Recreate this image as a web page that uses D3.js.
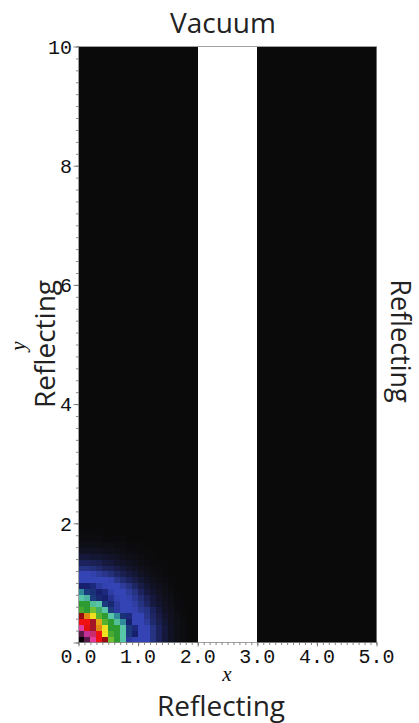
<!DOCTYPE html>
<html>
<head>
<meta charset="utf-8">
<script src="https://cdn.jsdelivr.net/npm/d3@7"></script>
<style>
  html, body { margin: 0; padding: 0; background: #fff; }
  svg { display: block; }
</style>
</head>
<body>
<svg id="chart" width="419" height="723"></svg>
<script>
// Domain of the mesh (x in [0,5], y in [0,10]) with square cells of 0.1
const xDomain = [0, 5];
const yDomain = [0, 10];
const cellSize = 0.1;
const nCellsX = 50;
const nCellsY = 100;

// Void channel: no material, drawn blank
const voidChannel = [2.0, 3.0];

// Tick values and labels
const xTickValues = [0, 1, 2, 3, 4, 5];
const xTickLabels = ["0.0", "1.0", "2.0", "3.0", "4.0", "5.0"];
const yTickValues = [2, 4, 6, 8, 10];
const yTickLabels = ["2", "4", "6", "8", "10"];

// Boundary condition labels
const labelTop = "Vacuum";
const labelLeft = "Reflecting";
const labelRight = "Reflecting";
const labelBottom = "Reflecting";
const xAxisTitle = "x";
const yAxisTitle = "y";

// Normalised scalar flux near the source corner; rows from y=0 upward,
// columns from x=0 rightward. Cells outside this block are 0.
const sourceField = [
  [1.00, 0.94, 0.88, 0.76, 0.82, 0.58, 0.53, 0.46, 0.30, 0.28, 0.27, 0.27, 0.21, 0.16, 0.11, 0.07, 0.04, 0.02, 0.00],
  [0.94, 0.91, 0.86, 0.76, 0.64, 0.55, 0.53, 0.46, 0.36, 0.33, 0.27, 0.27, 0.21, 0.16, 0.11, 0.07, 0.04, 0.02, 0.00],
  [0.88, 0.77, 0.83, 0.70, 0.64, 0.53, 0.53, 0.46, 0.36, 0.32, 0.27, 0.27, 0.21, 0.16, 0.11, 0.07, 0.04, 0.02, 0.00],
  [0.76, 0.76, 0.83, 0.68, 0.56, 0.53, 0.47, 0.40, 0.33, 0.27, 0.27, 0.24, 0.18, 0.14, 0.10, 0.06, 0.04, 0.02, 0.00],
  [0.82, 0.70, 0.64, 0.56, 0.53, 0.46, 0.40, 0.35, 0.32, 0.27, 0.27, 0.22, 0.17, 0.13, 0.09, 0.06, 0.03, 0.01, 0.00],
  [0.55, 0.53, 0.58, 0.50, 0.46, 0.36, 0.30, 0.27, 0.27, 0.26, 0.23, 0.21, 0.16, 0.11, 0.07, 0.05, 0.02, 0.01, 0.00],
  [0.53, 0.53, 0.47, 0.46, 0.36, 0.34, 0.30, 0.27, 0.27, 0.25, 0.21, 0.17, 0.12, 0.09, 0.06, 0.04, 0.02, 0.01, 0.00],
  [0.46, 0.44, 0.36, 0.34, 0.33, 0.31, 0.28, 0.27, 0.26, 0.23, 0.19, 0.15, 0.11, 0.08, 0.05, 0.03, 0.01, 0.00, 0.00],
  [0.40, 0.36, 0.35, 0.33, 0.32, 0.29, 0.27, 0.27, 0.24, 0.21, 0.16, 0.12, 0.09, 0.06, 0.04, 0.02, 0.01, 0.00, 0.00],
  [0.33, 0.33, 0.32, 0.30, 0.28, 0.27, 0.27, 0.24, 0.21, 0.17, 0.13, 0.10, 0.07, 0.05, 0.03, 0.01, 0.00, 0.00, 0.00],
  [0.27, 0.27, 0.27, 0.27, 0.27, 0.26, 0.22, 0.19, 0.16, 0.13, 0.10, 0.07, 0.05, 0.03, 0.02, 0.01, 0.00, 0.00, 0.00],
  [0.27, 0.27, 0.26, 0.24, 0.22, 0.20, 0.17, 0.14, 0.12, 0.10, 0.07, 0.05, 0.03, 0.02, 0.01, 0.00, 0.00, 0.00, 0.00],
  [0.21, 0.21, 0.20, 0.18, 0.16, 0.15, 0.13, 0.11, 0.09, 0.07, 0.05, 0.03, 0.02, 0.01, 0.01, 0.00, 0.00, 0.00, 0.00],
  [0.16, 0.16, 0.15, 0.14, 0.12, 0.11, 0.09, 0.08, 0.06, 0.05, 0.03, 0.02, 0.01, 0.01, 0.00, 0.00, 0.00, 0.00, 0.00],
  [0.11, 0.11, 0.10, 0.10, 0.09, 0.08, 0.07, 0.05, 0.04, 0.03, 0.02, 0.01, 0.01, 0.00, 0.00, 0.00, 0.00, 0.00, 0.00],
  [0.07, 0.07, 0.07, 0.06, 0.05, 0.05, 0.04, 0.03, 0.02, 0.02, 0.01, 0.01, 0.00, 0.00, 0.00, 0.00, 0.00, 0.00, 0.00],
  [0.04, 0.04, 0.04, 0.03, 0.03, 0.03, 0.02, 0.02, 0.01, 0.01, 0.01, 0.00, 0.00, 0.00, 0.00, 0.00, 0.00, 0.00, 0.00],
  [0.02, 0.02, 0.02, 0.02, 0.01, 0.01, 0.01, 0.01, 0.00, 0.00, 0.00, 0.00, 0.00, 0.00, 0.00, 0.00, 0.00, 0.00, 0.00],
  [0.01, 0.01, 0.01, 0.01, 0.00, 0.00, 0.00, 0.00, 0.00, 0.00, 0.00, 0.00, 0.00, 0.00, 0.00, 0.00, 0.00, 0.00, 0.00]
];

// Colour map stops (value -> colour)
const colorStops = [0.00, 0.04, 0.08, 0.12, 0.16, 0.21, 0.27, 0.30, 0.33, 0.36, 0.40, 0.46, 0.53, 0.58, 0.64, 0.70, 0.76, 0.82, 0.88, 0.91, 0.94, 1.00];
const colorValues = ["#0a0a0a", "#0f0f18", "#121328", "#161a40", "#1c235c", "#263282", "#3444b4", "#2c3aa0", "#16206c", "#1c3a7e", "#2f8a9a", "#58c4a8", "#2e9a32", "#70c030", "#f0e020", "#e08812", "#f01212", "#960c10", "#e43c9c", "#c03098", "#5a1a48", "#080008"];

// ---- layout ----
const svg = d3.select("#chart");
const plotLeft = 78.5, plotRight = 376.5, plotTop = 46.5, plotBottom = 642.5;

const x = d3.scaleLinear().domain(xDomain).range([plotLeft, plotRight]);
const y = d3.scaleLinear().domain(yDomain).range([plotBottom, plotTop]);
const color = d3.scaleLinear().domain(colorStops).range(colorValues).clamp(true);

// Build the full cell list
const cells = [];
for (let j = 0; j < nCellsY; j++) {
  for (let i = 0; i < nCellsX; i++) {
    const x0 = i * cellSize, y0 = j * cellSize;
    const xc = x0 + cellSize / 2;
    const isVoid = xc > voidChannel[0] && xc < voidChannel[1];
    let v = 0;
    if (j < sourceField.length && i < sourceField[j].length) v = sourceField[j][i];
    cells.push({ x0, y0, v: isVoid ? null : v });
  }
}

svg.append("g")
  .attr("shape-rendering", "crispEdges")
  .selectAll("rect")
  .data(cells.filter(d => d.v !== null))
  .join("rect")
  .attr("x", d => x(d.x0))
  .attr("y", d => y(d.y0 + cellSize))
  .attr("width", d => x(d.x0 + cellSize) - x(d.x0) + 0.5)
  .attr("height", d => y(d.y0) - y(d.y0 + cellSize) + 0.5)
  .attr("fill", d => color(d.v));

// Frame
svg.append("rect")
  .attr("x", plotLeft).attr("y", plotTop)
  .attr("width", plotRight - plotLeft).attr("height", plotBottom - plotTop)
  .attr("fill", "none").attr("stroke", "#8a8a8a").attr("stroke-width", 0.8);

const tickColor = "#666";

// x axis: minor ticks every 0.1, major at integers
const xAxisG = svg.append("g").attr("transform", `translate(0,${plotBottom})`);
xAxisG.call(d3.axisBottom(x).tickValues(d3.range(0, 51).map(k => k / 10)).tickSize(2.5).tickFormat(""));
xAxisG.append("g").call(d3.axisBottom(x).tickValues(xTickValues).tickSize(4).tickFormat(""));
xAxisG.selectAll(".domain").remove();
xAxisG.selectAll("line").attr("stroke", tickColor).attr("stroke-width", 0.8);

svg.append("g").selectAll("text")
  .data(xTickValues)
  .join("text")
  .attr("x", d => x(d))
  .attr("y", 663)
  .attr("text-anchor", "middle")
  .attr("font-family", "'Liberation Mono', 'DejaVu Sans Mono', monospace")
  .attr("font-size", 20)
  .attr("fill", "#111")
  .text((d, i) => xTickLabels[i]);

// y axis: minor ticks every 0.2, major at even integers
const yAxisG = svg.append("g").attr("transform", `translate(${plotLeft},0)`);
yAxisG.call(d3.axisLeft(y).tickValues(d3.range(0, 51).map(k => k / 5)).tickSize(2.5).tickFormat(""));
yAxisG.append("g").call(d3.axisLeft(y).tickValues([0].concat(yTickValues)).tickSize(5).tickFormat(""));
yAxisG.selectAll(".domain").remove();
yAxisG.selectAll("line").attr("stroke", tickColor).attr("stroke-width", 0.8);

svg.append("g").selectAll("text")
  .data(yTickValues)
  .join("text")
  .attr("x", 72)
  .attr("y", d => y(d))
  .attr("dy", "0.36em")
  .attr("text-anchor", "end")
  .attr("font-family", "'Liberation Mono', 'DejaVu Sans Mono', monospace")
  .attr("font-size", 20)
  .attr("fill", "#111")
  .text((d, i) => yTickLabels[i]);

// Axis titles
svg.append("text")
  .attr("x", 227).attr("y", 681)
  .attr("text-anchor", "middle")
  .attr("font-family", "'Liberation Serif', 'DejaVu Serif', serif")
  .attr("font-style", "italic")
  .attr("font-size", 21)
  .attr("fill", "#111")
  .text(xAxisTitle);

svg.append("text")
  .attr("transform", "translate(25,346) rotate(-90)")
  .attr("text-anchor", "middle")
  .attr("font-family", "'Liberation Serif', 'DejaVu Serif', serif")
  .attr("font-style", "italic")
  .attr("font-size", 21)
  .attr("fill", "#111")
  .text(yAxisTitle);

// Boundary condition labels
const bcFont = "'Open Sans', 'Noto Sans', sans-serif";
svg.append("text")
  .attr("x", 223).attr("y", 33)
  .attr("text-anchor", "middle")
  .attr("font-family", bcFont).attr("font-size", 28).attr("fill", "#222")
  .text(labelTop);

svg.append("text")
  .attr("x", 221).attr("y", 716)
  .attr("text-anchor", "middle")
  .attr("font-family", bcFont).attr("font-size", 28).attr("fill", "#222")
  .text(labelBottom);

svg.append("text")
  .attr("transform", "translate(55,344) rotate(-90)")
  .attr("text-anchor", "middle")
  .attr("font-family", bcFont).attr("font-size", 28).attr("fill", "#222")
  .text(labelLeft);

svg.append("text")
  .attr("transform", "translate(391,341) rotate(90)")
  .attr("text-anchor", "middle")
  .attr("font-family", bcFont).attr("font-size", 27).attr("fill", "#222")
  .text(labelRight);
</script>
</body>
</html>
